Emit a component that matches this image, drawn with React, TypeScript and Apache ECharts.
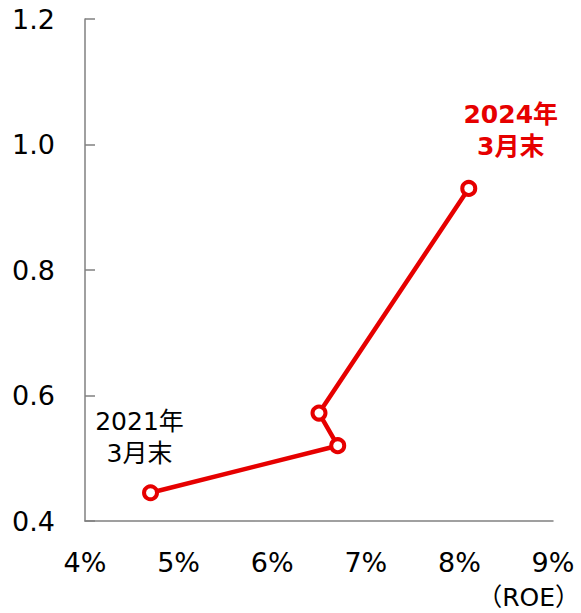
import React, { useEffect, useRef } from "react";
import * as echarts from "echarts";

const roe = [4.7, 6.7, 6.5, 8.1];
const pbr = [0.445, 0.52, 0.572, 0.93];
const pointLabels = ["2021年\n3月末", "", "", "2024年\n3月末"];
const xTicks = [4, 5, 6, 7, 8, 9];
const yTicks = [0.4, 0.6, 0.8, 1.0, 1.2];

const FONT = "'DejaVu Sans', Verdana, 'Noto Sans CJK JP', sans-serif";
const RED = "#e60000";

export default function App() {
  const ref = useRef<HTMLDivElement>(null);
  useEffect(() => {
    if (!ref.current) return;
    const chart = echarts.init(ref.current, undefined, { renderer: "svg" });
    const data = roe.map((x, i) => {
      const item: any = { value: [x, pbr[i]] };
      if (i === 0) {
        item.label = {
          show: true,
          formatter: pointLabels[i],
          position: "top",
          offset: [-11, -10],
          color: "#000",
          fontSize: 25,
          lineHeight: 32,
          fontFamily: FONT,
        };
      } else if (i === roe.length - 1) {
        item.label = {
          show: true,
          formatter: pointLabels[i],
          position: "top",
          offset: [42, -12],
          color: RED,
          fontWeight: "bold",
          fontSize: 25,
          lineHeight: 32,
          fontFamily: FONT,
        };
      }
      return item;
    });
    chart.setOption({
      animation: false,
      grid: { left: 85, top: 19, right: 28, bottom: 92 },
      xAxis: {
        type: "value",
        min: xTicks[0],
        max: xTicks[xTicks.length - 1],
        interval: 1,
        axisLine: { show: true, lineStyle: { color: "#808080", width: 1.5 } },
        axisTick: { show: false },
        splitLine: { show: false },
        axisLabel: {
          margin: 28,
          formatter: (v: number) => `${v}%`,
          color: "#000",
          fontSize: 27,
          fontFamily: FONT,
        },
      },
      yAxis: {
        type: "value",
        min: yTicks[0],
        max: yTicks[yTicks.length - 1],
        interval: 0.2,
        axisLine: { show: true, lineStyle: { color: "#808080", width: 1.5 } },
        axisTick: { show: true, inside: true, length: 10, lineStyle: { color: "#808080", width: 1.5 } },
        splitLine: { show: false },
        axisLabel: {
          margin: 30,
          formatter: (v: number) => v.toFixed(1),
          color: "#000",
          fontSize: 27,
          fontFamily: FONT,
        },
      },
      graphic: [
        {
          type: "text",
          right: 1,
          top: 585,
          style: { text: "（ROE）", fill: "#000", fontSize: 25, fontFamily: FONT },
        },
      ],
      series: [
        {
          type: "line",
          data,
          symbol: "circle",
          symbolSize: 13,
          lineStyle: { color: RED, width: 4.5 },
          itemStyle: { color: "#ffffff", borderColor: RED, borderWidth: 4 },
        },
      ],
    });
    return () => chart.dispose();
  }, []);
  return <div ref={ref} style={{ width: 581, height: 613, position: "absolute", left: 0, top: 0 }} />;
}
